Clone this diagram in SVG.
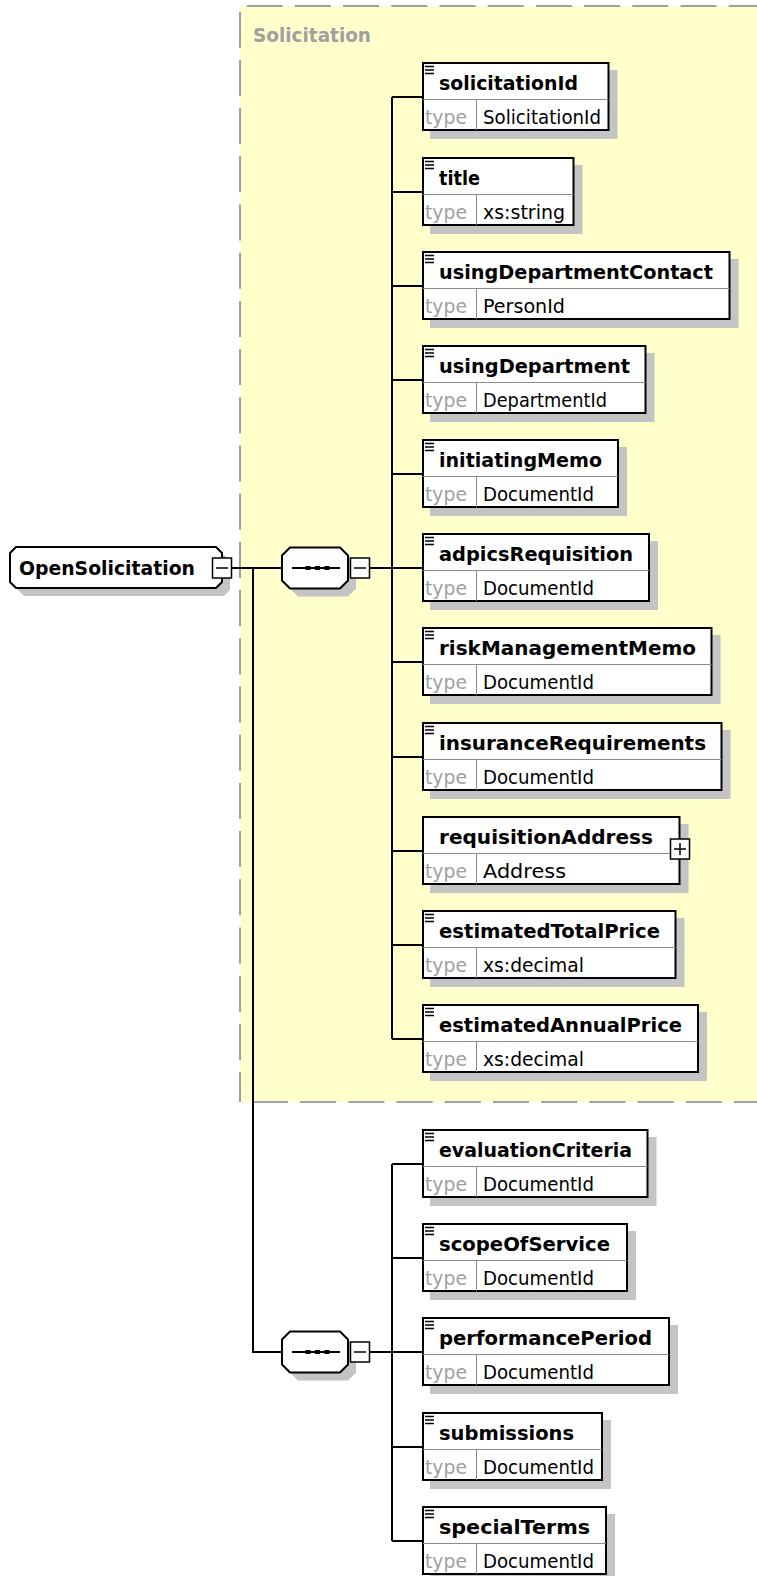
<svg xmlns="http://www.w3.org/2000/svg" width="757" height="1576" viewBox="0 0 757 1576">
<style>
.bg{fill:#ffffff}
.grp{fill:#ffffcc}
.gedge{stroke:#a0a0a0;stroke-width:2;fill:none;stroke-dasharray:36 12.2}
.glabel{font-family:"DejaVu Sans",sans-serif;font-weight:bold;font-size:19.5px;fill:#a0a0a0}
.shadow{fill:#c4c4c4}
.box{fill:#ffffff;stroke:#000000;stroke-width:2}
.div{stroke:#8c8c8c;stroke-width:1}
.icon{stroke:#000000;stroke-width:1.4;fill:none}
.name{font-family:"DejaVu Sans",sans-serif;font-weight:bold;font-size:20px;fill:#000000}
.tl{font-family:"DejaVu Sans",sans-serif;font-size:19px;fill:#a0a0a0}
.tv{font-family:"DejaVu Sans",sans-serif;font-size:19px;fill:#000000}
.wire{stroke:#000000;stroke-width:2;fill:none}
.btn{fill:#ffffff;stroke:#000000;stroke-width:1.5}
.sym{stroke:#000000;stroke-width:1.5;fill:none}
</style>
<rect class="bg" x="0" y="0" width="757" height="1576"/>

<g id="group-Solicitation">
  <rect class="grp" x="240" y="6" width="560" height="1096"/>
  <line class="gedge" x1="246.7" y1="6" x2="800" y2="6"/>
  <line class="gedge" x1="240" y1="11.7" x2="240" y2="1102"/>
  <line class="gedge" x1="252" y1="1102" x2="800" y2="1102"/>
  <text class="glabel" x="253" y="42" textLength="118" lengthAdjust="spacingAndGlyphs">Solicitation</text>
</g>

<g id="connectors">
  <path class="wire" d="M232 568H282M253 568V1352H282M370 568H392M392 97V1039M392 97H422M392 192H422M392 286H422M392 380H422M392 474H422M392 568H422M392 662H422M392 757H422M392 851H422M392 945H422M392 1039H422M370 1352H392M392 1164V1541M392 1164H422M392 1258H422M392 1352H422M392 1447H422M392 1541H422"/>
</g>

<g id="n-OpenSolicitation">
  <path class="shadow" d="M24,555 H224 L230,561 V590 L224,596 H24 L18,590 V561 Z"/>
  <path class="box" d="M16,547 H216 L222,553 V582 L216,588 H16 L10,582 V553 Z"/>
  <text class="name" x="19" y="575" textLength="176" lengthAdjust="spacingAndGlyphs">OpenSolicitation</text>
  <rect class="btn" x="212.5" y="558" width="19" height="20"/>
  <path class="sym" d="M216 568H228"/>
</g>

<g id="n-sequence1" transform="translate(0,568)">
  <path class="shadow" d="M298,-12.5 H348 L356,-4.5 V20.5 L348,28.5 H298 L290,20.5 V-4.5 Z"/>
  <path class="box" d="M290,-20.5 H340 L348,-12.5 V12.5 L340,20.5 H290 L282,12.5 V-12.5 Z"/>
  <path class="wire" d="M292 0H340"/>
  <rect x="305.5" y="-2" width="5" height="4" fill="#000"/>
  <rect x="315" y="-2" width="5" height="4" fill="#000"/>
  <rect x="324.5" y="-2" width="5" height="4" fill="#000"/>
  <rect class="btn" x="350.5" y="-10" width="19" height="20"/>
  <path class="sym" d="M354 0H366"/>
</g>

<g id="n-sequence2" transform="translate(0,1352)">
  <path class="shadow" d="M298,-12.5 H348 L356,-4.5 V20.5 L348,28.5 H298 L290,20.5 V-4.5 Z"/>
  <path class="box" d="M290,-20.5 H340 L348,-12.5 V12.5 L340,20.5 H290 L282,12.5 V-12.5 Z"/>
  <path class="wire" d="M292 0H340"/>
  <rect x="305.5" y="-2" width="5" height="4" fill="#000"/>
  <rect x="315" y="-2" width="5" height="4" fill="#000"/>
  <rect x="324.5" y="-2" width="5" height="4" fill="#000"/>
  <rect class="btn" x="350.5" y="-10" width="19" height="20"/>
  <path class="sym" d="M354 0H366"/>
</g>

<g id="n-solicitationId" transform="translate(0,62)">
  <rect class="shadow" x="430" y="8" width="187.5" height="69"/>
  <rect class="box" x="423" y="1" width="185.5" height="67"/>
  <line class="div" x1="423" y1="37.5" x2="608.5" y2="37.5"/>
  <line class="div" x1="476.5" y1="37.5" x2="476.5" y2="68"/>
  <path class="icon" d="M425 4.5h9M425 8h9M425 11.5h9"/>
  <text class="name" x="439" y="28" textLength="139" lengthAdjust="spacingAndGlyphs">solicitationId</text>
  <text class="tl" x="425" y="61.5" textLength="42" lengthAdjust="spacingAndGlyphs">type</text>
  <text class="tv" x="483" y="61.5" textLength="118" lengthAdjust="spacingAndGlyphs">SolicitationId</text>
</g>

<g id="n-title" transform="translate(0,157)">
  <rect class="shadow" x="430" y="8" width="152.5" height="69"/>
  <rect class="box" x="423" y="1" width="150.5" height="67"/>
  <line class="div" x1="423" y1="37.5" x2="573.5" y2="37.5"/>
  <line class="div" x1="476.5" y1="37.5" x2="476.5" y2="68"/>
  <path class="icon" d="M425 4.5h9M425 8h9M425 11.5h9"/>
  <text class="name" x="439" y="28" textLength="41" lengthAdjust="spacingAndGlyphs">title</text>
  <text class="tl" x="425" y="61.5" textLength="42" lengthAdjust="spacingAndGlyphs">type</text>
  <text class="tv" x="483" y="61.5" textLength="82" lengthAdjust="spacingAndGlyphs">xs:string</text>
</g>

<g id="n-usingDepartmentContact" transform="translate(0,251)">
  <rect class="shadow" x="430" y="8" width="308.5" height="69"/>
  <rect class="box" x="423" y="1" width="306.5" height="67"/>
  <line class="div" x1="423" y1="37.5" x2="729.5" y2="37.5"/>
  <line class="div" x1="476.5" y1="37.5" x2="476.5" y2="68"/>
  <path class="icon" d="M425 4.5h9M425 8h9M425 11.5h9"/>
  <text class="name" x="439" y="28" textLength="274" lengthAdjust="spacingAndGlyphs">usingDepartmentContact</text>
  <text class="tl" x="425" y="61.5" textLength="42" lengthAdjust="spacingAndGlyphs">type</text>
  <text class="tv" x="483" y="61.5" textLength="82" lengthAdjust="spacingAndGlyphs">PersonId</text>
</g>

<g id="n-usingDepartment" transform="translate(0,345)">
  <rect class="shadow" x="430" y="8" width="224.5" height="69"/>
  <rect class="box" x="423" y="1" width="222.5" height="67"/>
  <line class="div" x1="423" y1="37.5" x2="645.5" y2="37.5"/>
  <line class="div" x1="476.5" y1="37.5" x2="476.5" y2="68"/>
  <path class="icon" d="M425 4.5h9M425 8h9M425 11.5h9"/>
  <text class="name" x="439" y="28" textLength="191" lengthAdjust="spacingAndGlyphs">usingDepartment</text>
  <text class="tl" x="425" y="61.5" textLength="42" lengthAdjust="spacingAndGlyphs">type</text>
  <text class="tv" x="483" y="61.5" textLength="124" lengthAdjust="spacingAndGlyphs">DepartmentId</text>
</g>

<g id="n-initiatingMemo" transform="translate(0,439)">
  <rect class="shadow" x="430" y="8" width="197" height="69"/>
  <rect class="box" x="423" y="1" width="195" height="67"/>
  <line class="div" x1="423" y1="37.5" x2="618" y2="37.5"/>
  <line class="div" x1="476.5" y1="37.5" x2="476.5" y2="68"/>
  <path class="icon" d="M425 4.5h9M425 8h9M425 11.5h9"/>
  <text class="name" x="439" y="28" textLength="163" lengthAdjust="spacingAndGlyphs">initiatingMemo</text>
  <text class="tl" x="425" y="61.5" textLength="42" lengthAdjust="spacingAndGlyphs">type</text>
  <text class="tv" x="483" y="61.5" textLength="111" lengthAdjust="spacingAndGlyphs">DocumentId</text>
</g>

<g id="n-adpicsRequisition" transform="translate(0,533)">
  <rect class="shadow" x="430" y="8" width="228" height="69"/>
  <rect class="box" x="423" y="1" width="226" height="67"/>
  <line class="div" x1="423" y1="37.5" x2="649" y2="37.5"/>
  <line class="div" x1="476.5" y1="37.5" x2="476.5" y2="68"/>
  <path class="icon" d="M425 4.5h9M425 8h9M425 11.5h9"/>
  <text class="name" x="439" y="28" textLength="194" lengthAdjust="spacingAndGlyphs">adpicsRequisition</text>
  <text class="tl" x="425" y="61.5" textLength="42" lengthAdjust="spacingAndGlyphs">type</text>
  <text class="tv" x="483" y="61.5" textLength="111" lengthAdjust="spacingAndGlyphs">DocumentId</text>
</g>

<g id="n-riskManagementMemo" transform="translate(0,627)">
  <rect class="shadow" x="430" y="8" width="290.5" height="69"/>
  <rect class="box" x="423" y="1" width="288.5" height="67"/>
  <line class="div" x1="423" y1="37.5" x2="711.5" y2="37.5"/>
  <line class="div" x1="476.5" y1="37.5" x2="476.5" y2="68"/>
  <path class="icon" d="M425 4.5h9M425 8h9M425 11.5h9"/>
  <text class="name" x="439" y="28" textLength="257" lengthAdjust="spacingAndGlyphs">riskManagementMemo</text>
  <text class="tl" x="425" y="61.5" textLength="42" lengthAdjust="spacingAndGlyphs">type</text>
  <text class="tv" x="483" y="61.5" textLength="111" lengthAdjust="spacingAndGlyphs">DocumentId</text>
</g>

<g id="n-insuranceRequirements" transform="translate(0,722)">
  <rect class="shadow" x="430" y="8" width="300.5" height="69"/>
  <rect class="box" x="423" y="1" width="298.5" height="67"/>
  <line class="div" x1="423" y1="37.5" x2="721.5" y2="37.5"/>
  <line class="div" x1="476.5" y1="37.5" x2="476.5" y2="68"/>
  <path class="icon" d="M425 4.5h9M425 8h9M425 11.5h9"/>
  <text class="name" x="439" y="28" textLength="267" lengthAdjust="spacingAndGlyphs">insuranceRequirements</text>
  <text class="tl" x="425" y="61.5" textLength="42" lengthAdjust="spacingAndGlyphs">type</text>
  <text class="tv" x="483" y="61.5" textLength="111" lengthAdjust="spacingAndGlyphs">DocumentId</text>
</g>

<g id="n-requisitionAddress" transform="translate(0,816)">
  <rect class="shadow" x="430" y="8" width="258.5" height="69"/>
  <rect class="box" x="423" y="1" width="256.5" height="67"/>
  <line class="div" x1="423" y1="37.5" x2="679.5" y2="37.5"/>
  <line class="div" x1="476.5" y1="37.5" x2="476.5" y2="68"/>
  <text class="name" x="439" y="28" textLength="214" lengthAdjust="spacingAndGlyphs">requisitionAddress</text>
  <text class="tl" x="425" y="61.5" textLength="42" lengthAdjust="spacingAndGlyphs">type</text>
  <text class="tv" x="483" y="61.5" textLength="83" lengthAdjust="spacingAndGlyphs">Address</text>
  <rect class="btn" x="670.5" y="23" width="19" height="20"/>
  <path class="sym" d="M674 33H686M680 27V39"/>
</g>

<g id="n-estimatedTotalPrice" transform="translate(0,910)">
  <rect class="shadow" x="430" y="8" width="254.5" height="69"/>
  <rect class="box" x="423" y="1" width="252.5" height="67"/>
  <line class="div" x1="423" y1="37.5" x2="675.5" y2="37.5"/>
  <line class="div" x1="476.5" y1="37.5" x2="476.5" y2="68"/>
  <path class="icon" d="M425 4.5h9M425 8h9M425 11.5h9"/>
  <text class="name" x="439" y="28" textLength="221" lengthAdjust="spacingAndGlyphs">estimatedTotalPrice</text>
  <text class="tl" x="425" y="61.5" textLength="42" lengthAdjust="spacingAndGlyphs">type</text>
  <text class="tv" x="483" y="61.5" textLength="101" lengthAdjust="spacingAndGlyphs">xs:decimal</text>
</g>

<g id="n-estimatedAnnualPrice" transform="translate(0,1004)">
  <rect class="shadow" x="430" y="8" width="277" height="69"/>
  <rect class="box" x="423" y="1" width="275" height="67"/>
  <line class="div" x1="423" y1="37.5" x2="698" y2="37.5"/>
  <line class="div" x1="476.5" y1="37.5" x2="476.5" y2="68"/>
  <path class="icon" d="M425 4.5h9M425 8h9M425 11.5h9"/>
  <text class="name" x="439" y="28" textLength="243" lengthAdjust="spacingAndGlyphs">estimatedAnnualPrice</text>
  <text class="tl" x="425" y="61.5" textLength="42" lengthAdjust="spacingAndGlyphs">type</text>
  <text class="tv" x="483" y="61.5" textLength="101" lengthAdjust="spacingAndGlyphs">xs:decimal</text>
</g>

<g id="n-evaluationCriteria" transform="translate(0,1129)">
  <rect class="shadow" x="430" y="8" width="226.5" height="69"/>
  <rect class="box" x="423" y="1" width="224.5" height="67"/>
  <line class="div" x1="423" y1="37.5" x2="647.5" y2="37.5"/>
  <line class="div" x1="476.5" y1="37.5" x2="476.5" y2="68"/>
  <path class="icon" d="M425 4.5h9M425 8h9M425 11.5h9"/>
  <text class="name" x="439" y="28" textLength="193" lengthAdjust="spacingAndGlyphs">evaluationCriteria</text>
  <text class="tl" x="425" y="61.5" textLength="42" lengthAdjust="spacingAndGlyphs">type</text>
  <text class="tv" x="483" y="61.5" textLength="111" lengthAdjust="spacingAndGlyphs">DocumentId</text>
</g>

<g id="n-scopeOfService" transform="translate(0,1223)">
  <rect class="shadow" x="430" y="8" width="206" height="69"/>
  <rect class="box" x="423" y="1" width="204" height="67"/>
  <line class="div" x1="423" y1="37.5" x2="627" y2="37.5"/>
  <line class="div" x1="476.5" y1="37.5" x2="476.5" y2="68"/>
  <path class="icon" d="M425 4.5h9M425 8h9M425 11.5h9"/>
  <text class="name" x="439" y="28" textLength="171" lengthAdjust="spacingAndGlyphs">scopeOfService</text>
  <text class="tl" x="425" y="61.5" textLength="42" lengthAdjust="spacingAndGlyphs">type</text>
  <text class="tv" x="483" y="61.5" textLength="111" lengthAdjust="spacingAndGlyphs">DocumentId</text>
</g>

<g id="n-performancePeriod" transform="translate(0,1317)">
  <rect class="shadow" x="430" y="8" width="248" height="69"/>
  <rect class="box" x="423" y="1" width="246" height="67"/>
  <line class="div" x1="423" y1="37.5" x2="669" y2="37.5"/>
  <line class="div" x1="476.5" y1="37.5" x2="476.5" y2="68"/>
  <path class="icon" d="M425 4.5h9M425 8h9M425 11.5h9"/>
  <text class="name" x="439" y="28" textLength="213" lengthAdjust="spacingAndGlyphs">performancePeriod</text>
  <text class="tl" x="425" y="61.5" textLength="42" lengthAdjust="spacingAndGlyphs">type</text>
  <text class="tv" x="483" y="61.5" textLength="111" lengthAdjust="spacingAndGlyphs">DocumentId</text>
</g>

<g id="n-submissions" transform="translate(0,1412)">
  <rect class="shadow" x="430" y="8" width="181" height="69"/>
  <rect class="box" x="423" y="1" width="179" height="67"/>
  <line class="div" x1="423" y1="37.5" x2="602" y2="37.5"/>
  <line class="div" x1="476.5" y1="37.5" x2="476.5" y2="68"/>
  <path class="icon" d="M425 4.5h9M425 8h9M425 11.5h9"/>
  <text class="name" x="439" y="28" textLength="135" lengthAdjust="spacingAndGlyphs">submissions</text>
  <text class="tl" x="425" y="61.5" textLength="42" lengthAdjust="spacingAndGlyphs">type</text>
  <text class="tv" x="483" y="61.5" textLength="111" lengthAdjust="spacingAndGlyphs">DocumentId</text>
</g>

<g id="n-specialTerms" transform="translate(0,1506)">
  <rect class="shadow" x="430" y="8" width="185" height="69"/>
  <rect class="box" x="423" y="1" width="183" height="67"/>
  <line class="div" x1="423" y1="37.5" x2="606" y2="37.5"/>
  <line class="div" x1="476.5" y1="37.5" x2="476.5" y2="68"/>
  <path class="icon" d="M425 4.5h9M425 8h9M425 11.5h9"/>
  <text class="name" x="439" y="28" textLength="151" lengthAdjust="spacingAndGlyphs">specialTerms</text>
  <text class="tl" x="425" y="61.5" textLength="42" lengthAdjust="spacingAndGlyphs">type</text>
  <text class="tv" x="483" y="61.5" textLength="111" lengthAdjust="spacingAndGlyphs">DocumentId</text>
</g>
</svg>
